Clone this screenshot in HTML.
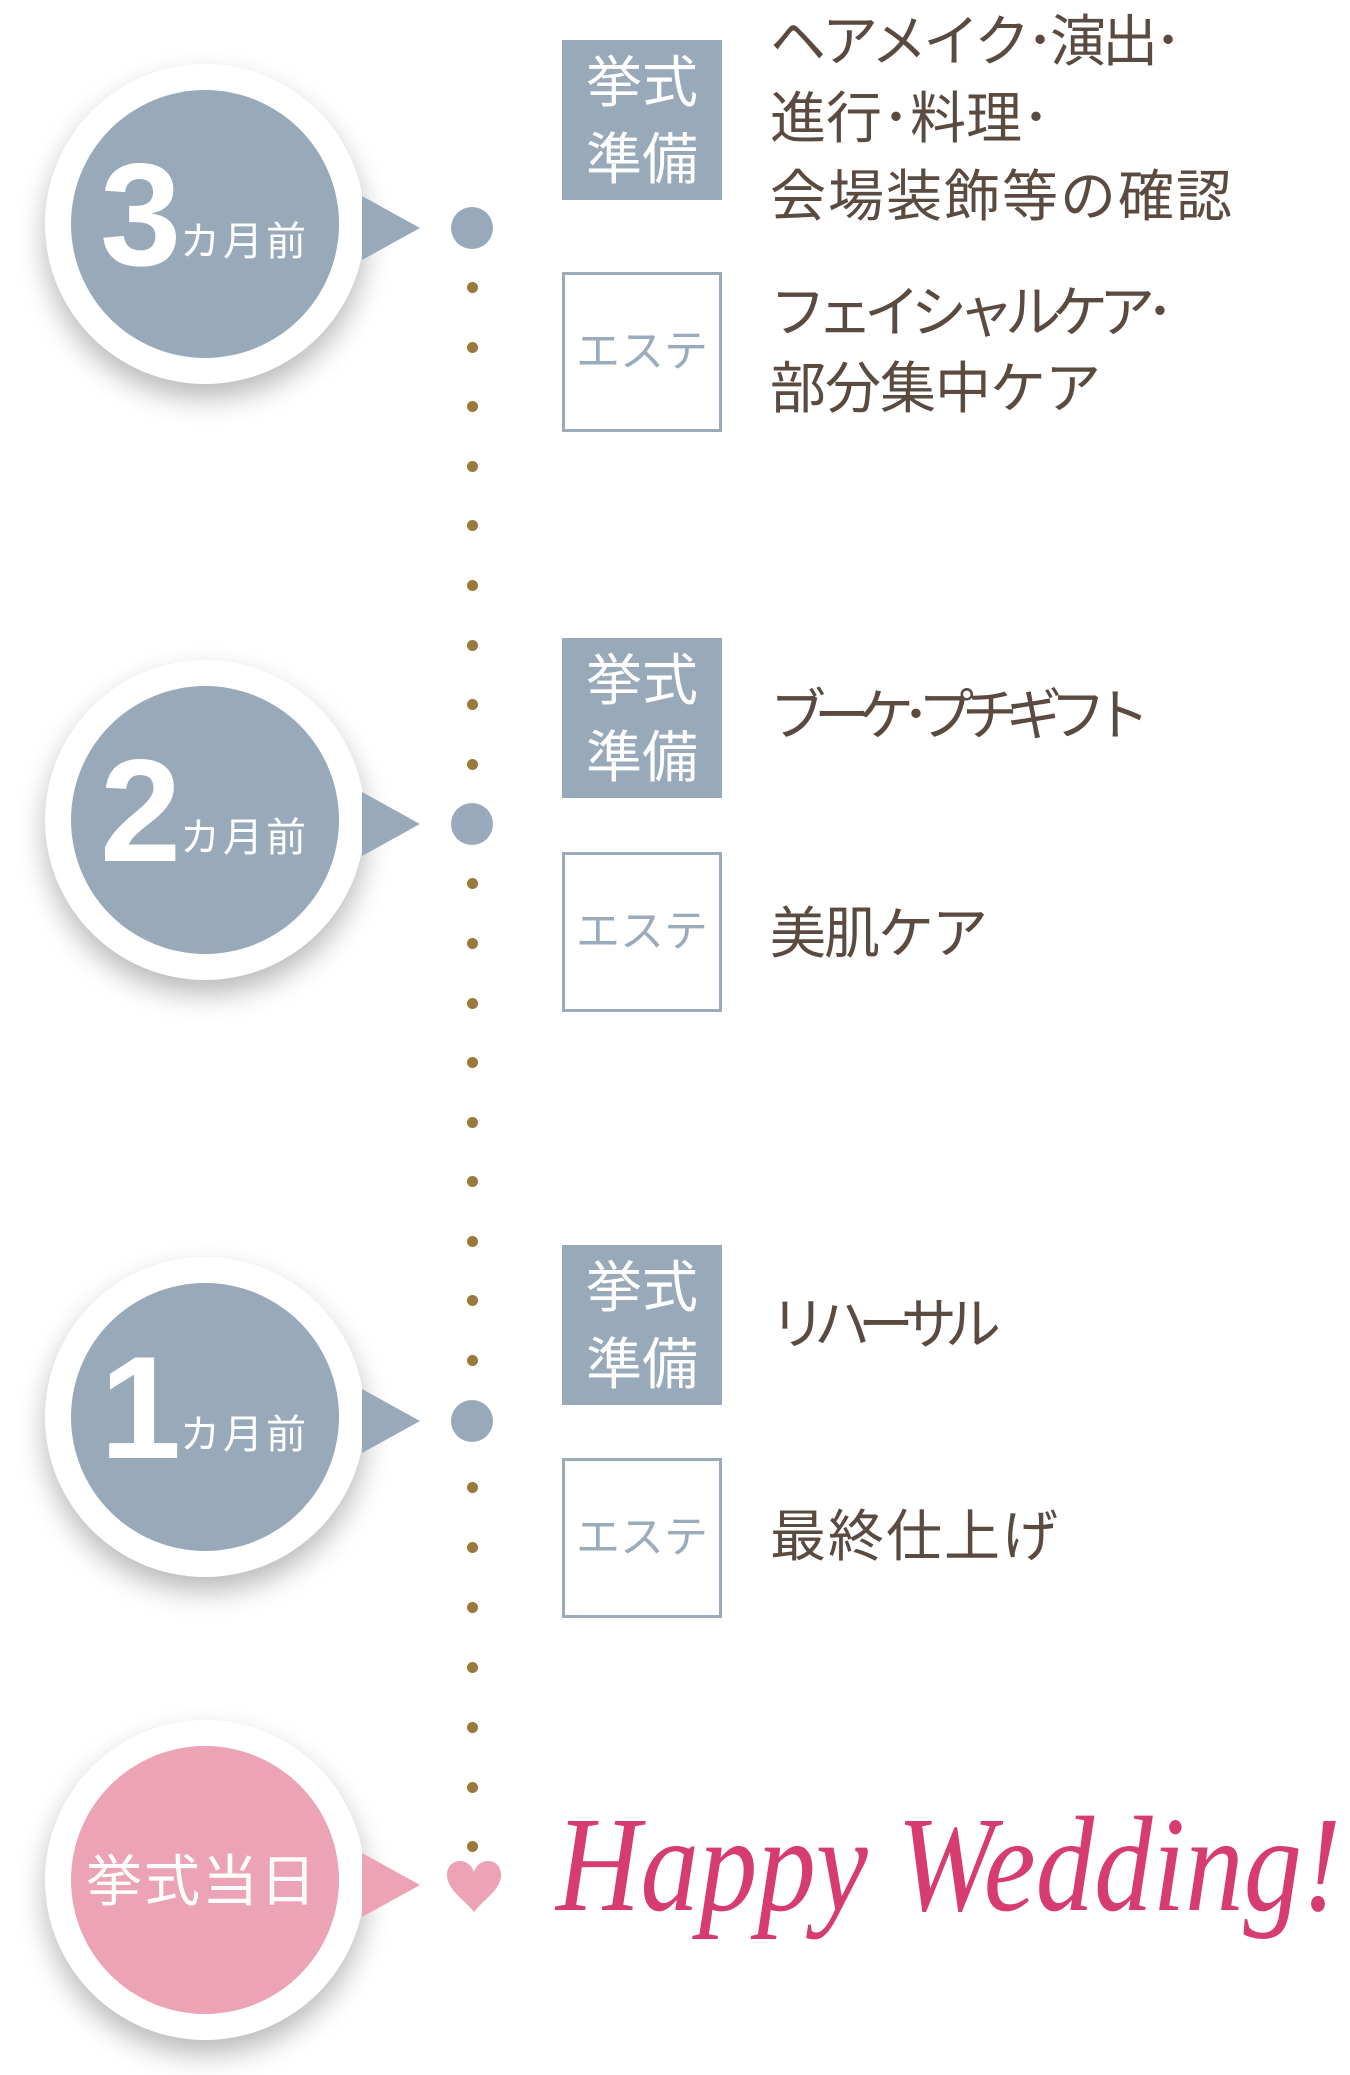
<!DOCTYPE html>
<html><head><meta charset="utf-8"><style>
body{margin:0;width:1350px;height:2075px;background:#fff;position:relative;overflow:hidden;font-family:"Liberation Sans","Noto Sans CJK JP",sans-serif}
.a{position:absolute}
.outer{position:absolute;width:320px;height:320px;border-radius:50%;background:#fff;box-shadow:0 14px 28px rgba(0,0,0,0.28)}
.inner{position:absolute;left:26px;top:26px;width:268px;height:268px;border-radius:50%;background:#98aaba}
.tri{position:absolute;width:0;height:0;border-top:32px solid transparent;border-bottom:32px solid transparent;border-left:58px solid #98aaba}
.big{position:absolute;width:42px;height:42px;border-radius:50%;background:#98aaba}
.dot{position:absolute;width:11px;height:11px;border-radius:50%;background:#9a7a3c}
.b1{position:absolute;left:562px;width:160px;height:160px;background:#98aaba;color:#fff;font-size:56px;line-height:77px;text-align:center}
.b1 div{height:77px}
.b2{position:absolute;left:562px;width:154px;height:154px;border:3px solid #9aacbc;color:#9aacbc;font-size:44px;text-align:center;line-height:154px}
.t{position:absolute;left:770px;color:#5b4a3f;font-size:56px;line-height:56px;white-space:nowrap}
.num{position:absolute;color:#fff;font-weight:bold;font-size:146px;line-height:146px}
.km{position:absolute;color:#fff;font-size:40px;line-height:40px;white-space:nowrap;letter-spacing:3px}
</style></head><body>

<!-- row 1 -->
<div class="outer" style="left:45px;top:64px"><div class="inner"></div></div>
<div class="tri" style="left:362px;top:196px"></div>
<div class="num" style="left:100px;top:142px">3</div>
<div class="km" style="left:180px;top:222px">カ月前</div>
<div class="big" style="left:451px;top:207px"></div>
<div class="b1" style="top:40px"><div style="padding-top:4px">挙式</div><div>準備</div></div>
<div class="b2" style="top:272px">エステ</div>
<div class="t" style="top:14px;letter-spacing:-4px">ヘアメイク･演出･</div>
<div class="t" style="top:91px">進行･料理･</div>
<div class="t" style="top:169px;letter-spacing:2px">会場装飾等の確認</div>
<div class="t" style="top:285px;letter-spacing:-9px">フェイシャルケア･</div>
<div class="t" style="top:361px;letter-spacing:-1px">部分集中ケア</div>

<!-- row 2 -->
<div class="outer" style="left:45px;top:660px"><div class="inner"></div></div>
<div class="tri" style="left:362px;top:792px"></div>
<div class="num" style="left:100px;top:738px">2</div>
<div class="km" style="left:180px;top:818px">カ月前</div>
<div class="big" style="left:451px;top:803px"></div>
<div class="b1" style="top:638px"><div style="padding-top:4px">挙式</div><div>準備</div></div>
<div class="b2" style="top:852px">エステ</div>
<div class="t" style="top:688px;letter-spacing:-12px">ブーケ･プチギフト</div>
<div class="t" style="top:906px;letter-spacing:-2px">美肌ケア</div>

<!-- row 3 -->
<div class="outer" style="left:45px;top:1257px"><div class="inner"></div></div>
<div class="tri" style="left:362px;top:1389px"></div>
<div class="num" style="left:100px;top:1335px">1</div>
<div class="km" style="left:180px;top:1415px">カ月前</div>
<div class="big" style="left:451px;top:1400px"></div>
<div class="b1" style="top:1245px"><div style="padding-top:4px">挙式</div><div>準備</div></div>
<div class="b2" style="top:1458px">エステ</div>
<div class="t" style="top:1297px;letter-spacing:-12px">リハーサル</div>
<div class="t" style="top:1509px;letter-spacing:2px">最終仕上げ</div>

<!-- row 4 -->
<div class="outer" style="left:45px;top:1720px"><div class="inner" style="background:#eca3b5"></div></div>
<div class="tri" style="left:362px;top:1853px;border-left-color:#eca3b5"></div>
<div class="km" style="left:86px;top:1854px;font-size:56px;line-height:56px;letter-spacing:2px">挙式当日</div>
<svg class="a" style="left:445px;top:1860px" width="58" height="52" viewBox="0 0 58 52"><path d="M29 52 C20 40 2 30 2 15 C2 6 8 1 15 1 C22 1 27 6 29 12 C31 6 36 1 43 1 C50 1 56 6 56 15 C56 30 38 40 29 52Z" fill="#eca3b5"/></svg>
<svg class="a" style="left:550px;top:1790px" width="800" height="180"><text x="6" y="120" textLength="785" lengthAdjust="spacingAndGlyphs" font-family="Liberation Serif, serif" font-style="italic" font-size="136" fill="#d63c6e">Happy Wedding!</text></svg>

<div class="dot" style="left:467px;top:282px"></div>
<div class="dot" style="left:467px;top:342px"></div>
<div class="dot" style="left:467px;top:401px"></div>
<div class="dot" style="left:467px;top:461px"></div>
<div class="dot" style="left:467px;top:520px"></div>
<div class="dot" style="left:467px;top:580px"></div>
<div class="dot" style="left:467px;top:640px"></div>
<div class="dot" style="left:467px;top:699px"></div>
<div class="dot" style="left:467px;top:759px"></div>
<div class="dot" style="left:467px;top:878px"></div>
<div class="dot" style="left:467px;top:938px"></div>
<div class="dot" style="left:467px;top:998px"></div>
<div class="dot" style="left:467px;top:1057px"></div>
<div class="dot" style="left:467px;top:1117px"></div>
<div class="dot" style="left:467px;top:1176px"></div>
<div class="dot" style="left:467px;top:1236px"></div>
<div class="dot" style="left:467px;top:1295px"></div>
<div class="dot" style="left:467px;top:1355px"></div>
<div class="dot" style="left:467px;top:1482px"></div>
<div class="dot" style="left:467px;top:1542px"></div>
<div class="dot" style="left:467px;top:1602px"></div>
<div class="dot" style="left:467px;top:1662px"></div>
<div class="dot" style="left:467px;top:1722px"></div>
<div class="dot" style="left:467px;top:1782px"></div>
<div class="dot" style="left:467px;top:1841px"></div>
</body></html>
